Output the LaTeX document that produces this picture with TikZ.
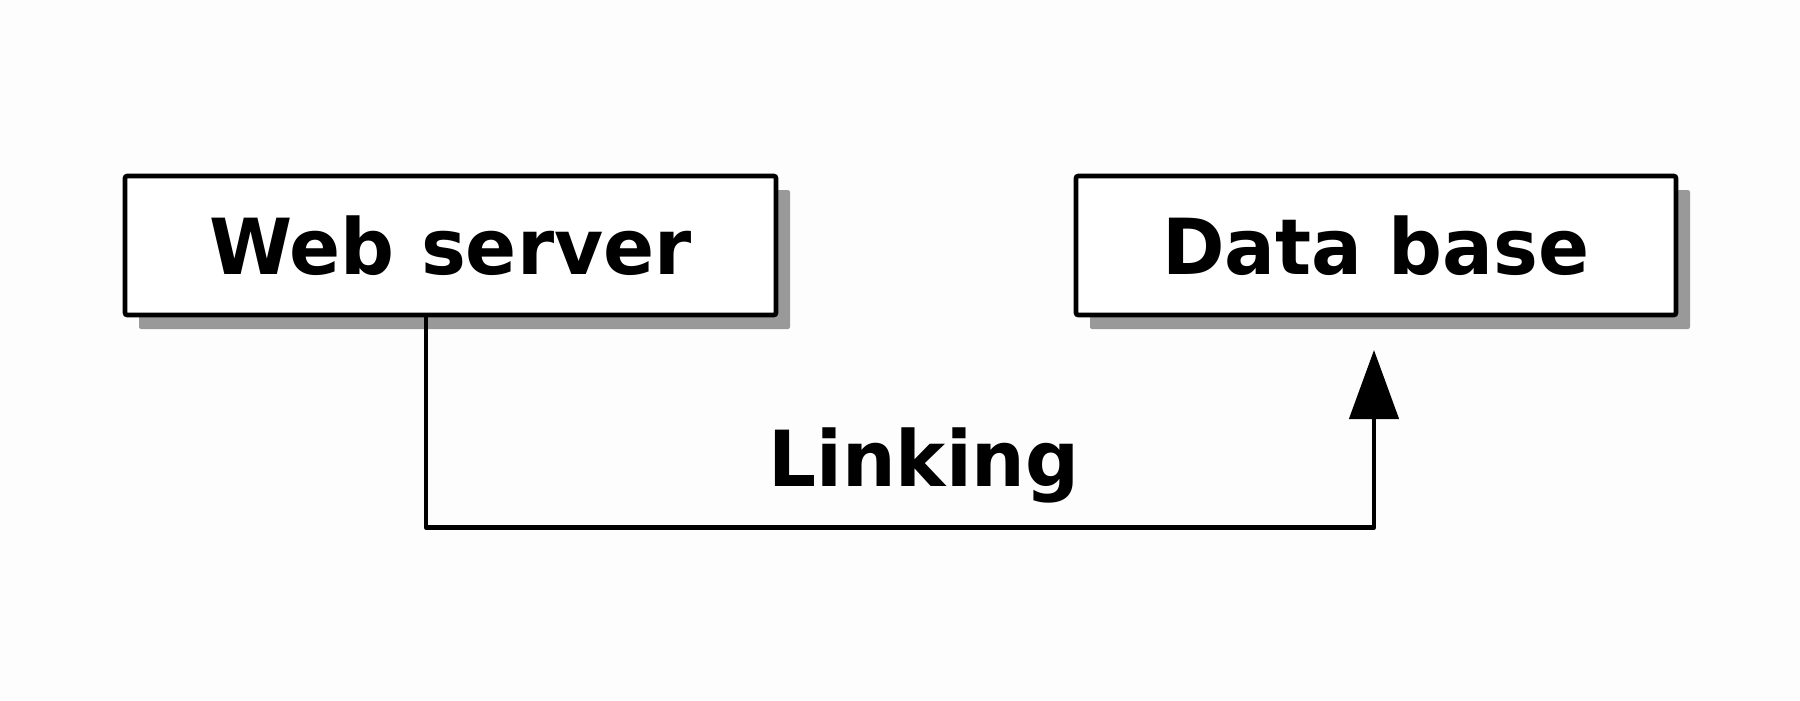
\documentclass[tikz,border=0pt]{standalone}
\usepackage{fontspec}
\setmainfont[FakeStretch=0.975]{DejaVu Sans}
\usetikzlibrary{shadows,arrows.meta,positioning}
\definecolor{bg}{HTML}{FDFDFD}
\definecolor{shadowgray}{HTML}{999999}
\tikzset{
  box/.style={draw=black, line width=1.3pt, fill=white, rounded corners=0.6pt,
    minimum height=1.39cm, inner sep=0pt,
    font=\fontsize{22}{26}\selectfont\bfseries,
    drop shadow={shadow xshift=0.14cm, shadow yshift=-0.14cm, fill=shadowgray, opacity=1}},
  link/.style={draw=black, line width=1.3pt, line join=round,
    -{Triangle[length=0.69cm,width=0.49cm]}},
  lbl/.style={font=\fontsize{22}{26}\selectfont\bfseries, inner sep=0pt}
}
\begin{document}
\begin{tikzpicture}
\fill[bg] (0,0) rectangle (18,-7);
\useasboundingbox (0,0) rectangle (18,-7);
\node[box, minimum width=6.51cm] (ws) at (4.505,-2.455) {Web server};
\node[box, minimum width=6.00cm] (db) at (13.76,-2.455) {Data base};
\coordinate (tip) at (13.74,-3.50);
\draw[link] ([xshift=-0.245cm]ws.south) -- ++(0,-2.10) -| (tip);
\node[lbl, anchor=base] (lk) at (9.24,-4.86) {Linking};
\end{tikzpicture}
\end{document}
